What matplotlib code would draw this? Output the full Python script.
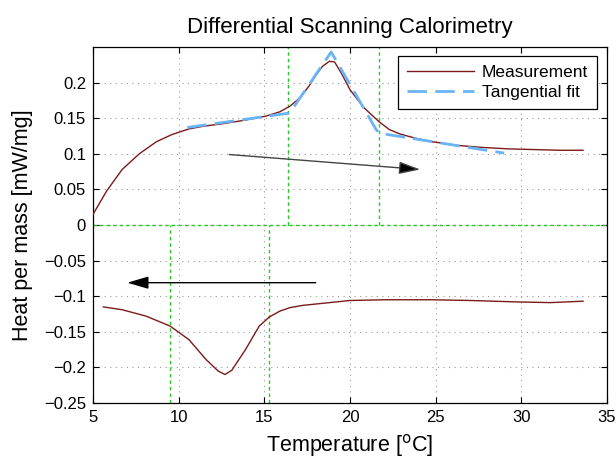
import matplotlib
matplotlib.use("Agg")
import matplotlib.pyplot as plt

plt.rcParams['font.family'] = ['Liberation Sans', 'DejaVu Sans']

# Heating (upper) measurement
heat_T = [5.0, 5.8, 6.7, 7.7, 8.7, 9.6, 10.6, 11.5, 12.5, 13.8, 15.1, 15.9, 16.5, 17.1, 17.6, 18.0, 18.4, 18.8, 19.1, 19.5, 20.0, 20.8, 21.7, 22.3, 22.9, 23.8, 24.8, 26.2, 27.7, 29.2, 30.7, 32.2, 33.6]
heat_Q = [0.015, 0.048, 0.078, 0.100, 0.117, 0.127, 0.135, 0.139, 0.142, 0.147, 0.153, 0.159, 0.167, 0.179, 0.195, 0.210, 0.223, 0.230, 0.229, 0.213, 0.190, 0.165, 0.145, 0.134, 0.128, 0.122, 0.117, 0.112, 0.109, 0.107, 0.106, 0.105, 0.105]

# Cooling (lower) measurement
cool_T = [5.6, 6.7, 8.1, 9.5, 10.6, 11.6, 12.3, 12.7, 13.1, 13.9, 14.7, 15.3, 15.9, 16.5, 17.2, 18.4, 20.0, 22.0, 24.8, 27.0, 29.7, 31.7, 33.6]
cool_Q = [-0.115, -0.119, -0.128, -0.142, -0.161, -0.189, -0.205, -0.210, -0.204, -0.175, -0.142, -0.129, -0.121, -0.116, -0.113, -0.110, -0.106, -0.105, -0.105, -0.106, -0.108, -0.109, -0.107]

# Tangential fit
fit_T = [10.5, 16.4, 16.7, 18.9, 21.5, 21.7, 29.0]
fit_Q = [0.137, 0.157, 0.165, 0.243, 0.135, 0.129, 0.101]

# Marker lines (onset/endset)
vline_heat = [16.4, 21.7]
vline_cool = [9.5, 15.3]

xticks = [5, 10, 15, 20, 25, 30, 35]
yticks = [-0.25, -0.2, -0.15, -0.1, -0.05, 0, 0.05, 0.1, 0.15, 0.2]
ytick_labels = ['\u22120.25', '\u22120.2', '\u22120.15', '\u22120.1', '\u22120.05', '0', '0.05', '0.1', '0.15', '0.2']

fig = plt.figure(figsize=(6.16, 4.61), dpi=100)
ax = fig.add_axes([0.151, 0.1258, 0.8344, 0.7722])

green = '#22cc22'
gdash = (0, (2.5, 2.2))
for xv in vline_heat:
    ax.plot([xv, xv], [0, 0.25], color=green, ls=gdash, lw=1.0, zorder=2)
for xv in vline_cool:
    ax.plot([xv, xv], [-0.25, 0], color=green, ls=gdash, lw=1.0, zorder=2)
ax.axhline(0, color=green, ls=gdash, lw=1.0, zorder=2)

meas_color = '#7b1a1a'
ax.plot(heat_T, heat_Q, color=meas_color, lw=1.0, label='Measurement', zorder=3)
ax.plot(cool_T, cool_Q, color=meas_color, lw=1.0, zorder=3)
ax.plot(fit_T, fit_Q, color='#6ab4f5', lw=2.0, dashes=(7, 3), label='Tangential fit', zorder=4)

# arrows
ax.annotate('', xy=(24.1, 0.078), xytext=(12.95, 0.099),
            arrowprops=dict(arrowstyle='-|>,head_length=1.3,head_width=0.38', color='#666666', lw=1.0,
                            shrinkA=0, shrinkB=0, fc='black', ec='#444444'), zorder=5)
ax.annotate('', xy=(7.0, -0.081), xytext=(18.0, -0.081),
            arrowprops=dict(arrowstyle='-|>,head_length=1.3,head_width=0.38', color='black', lw=1.0,
                            shrinkA=0, shrinkB=0, fc='black'), zorder=5)

ax.set_xlim(5, 35)
ax.set_ylim(-0.25, 0.25)
ax.set_xticks(xticks)
ax.set_yticks(yticks)
ax.set_yticklabels(ytick_labels)
ax.tick_params(direction='in', top=True, right=True, labelsize=12, length=4.5, width=0.8, pad=5)
ax.grid(True, color='#999999', ls=(0, (1, 4)), lw=0.8)
for s in ax.spines.values():
    s.set_linewidth(0.9)

ax.set_title('Differential Scanning Calorimetry', fontsize=16, pad=10)
ax.set_xlabel('Temperature [$^{\\mathrm{o}}$C]', fontsize=15.5, labelpad=5)
ax.set_ylabel('Heat per mass [mW/mg]', fontsize=15.5, labelpad=8)

leg = ax.legend(loc='upper right', bbox_to_anchor=(0.9805, 0.975), borderaxespad=0, fontsize=12.5,
                fancybox=False, edgecolor='black', framealpha=1, handlelength=3.9, handletextpad=0.45,
                borderpad=0.5, labelspacing=0.3)
leg.get_frame().set_linewidth(0.9)

fig.savefig('out.png', dpi=100)
